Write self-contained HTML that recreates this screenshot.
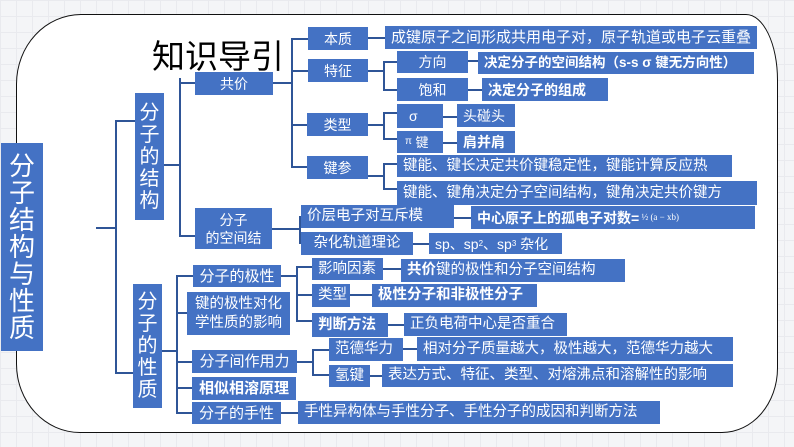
<!DOCTYPE html>
<html><head><meta charset="utf-8"><style>
body{margin:0;width:794px;height:447px;overflow:hidden;background:#f4f5f7;
background-image:linear-gradient(#e9eaee 1px,transparent 1px),linear-gradient(90deg,#e9eaee 1px,transparent 1px);background-size:16px 16px;
font-family:"Liberation Sans","Noto Sans CJK SC",sans-serif;position:relative}
.frame{position:absolute;left:16px;top:14px;width:760px;height:417px;background:#fff;border:1px solid #111;border-radius:65px 32px 56px 64px/70px 66px 65px 69px}
.b{position:absolute;background:#4472c4;color:#fff;font-size:14px;line-height:1;display:flex;align-items:center;white-space:nowrap;overflow:hidden;box-sizing:border-box;padding-left:6px}
.c{justify-content:center;padding-left:0}
.v{flex-direction:column;justify-content:center;padding:0;text-align:center}
.h{position:absolute;height:2px;background:#2f5597}
.l{position:absolute;width:2px;background:#2f5597}
</style></head><body>
<div class="frame"></div>
<div style="position:absolute;left:152px;top:34px;font-size:33px;color:#000;font-family:'Noto Sans CJK SC',sans-serif;line-height:40px">知识导引</div>

<div class="b v" style="left:1px;top:143px;width:42px;height:208px;font-size:26px;line-height:27px">分<br>子<br>结<br>构<br>与<br>性<br>质</div>
<div class="h" style="left:96px;top:227px;width:20px"></div>
<div class="l" style="left:115px;top:120px;height:254px"></div>
<div class="h" style="left:115px;top:120px;width:20px"></div>
<div class="h" style="left:115px;top:372px;width:20px"></div>

<div class="b v" style="left:135px;top:93px;width:29px;height:127px;font-size:20px;line-height:22px">分<br>子<br>的<br>结<br>构</div>
<div class="b v" style="left:133px;top:284px;width:29px;height:124px;font-size:20px;line-height:22px">分<br>子<br>的<br>性<br>质</div>

<!-- structure -->
<div class="h" style="left:164px;top:164px;width:16px"></div>
<div class="l" style="left:179px;top:78px;height:158px"></div>
<div class="h" style="left:179px;top:82px;width:16px"></div>
<div class="h" style="left:179px;top:235px;width:16px"></div>
<div class="b c" style="left:195px;top:72px;width:78px;height:23px">共价</div>
<div class="b c v" style="left:195px;top:208px;width:77px;height:41px;line-height:18px">分子<br>的空间结</div>

<div class="h" style="left:273px;top:82px;width:20px"></div>
<div class="l" style="left:291px;top:38px;height:130px"></div>
<div class="h" style="left:291px;top:38px;width:17px"></div>
<div class="h" style="left:291px;top:70px;width:17px"></div>
<div class="h" style="left:291px;top:124px;width:17px"></div>
<div class="h" style="left:291px;top:166px;width:17px"></div>
<div class="b c" style="left:308px;top:27px;width:60px;height:23px">本质</div>
<div class="b c" style="left:308px;top:59px;width:60px;height:23px">特征</div>
<div class="b c" style="left:307px;top:113px;width:61px;height:23px">类型</div>
<div class="b c" style="left:307px;top:156px;width:61px;height:23px">键参</div>

<div class="h" style="left:368px;top:37px;width:18px"></div>
<div class="b" style="left:385px;top:26px;width:372px;height:23px;font-size:15px">成键原子之间形成共用电子对，原子轨道或电子云重叠</div>

<div class="h" style="left:368px;top:70px;width:17px"></div>
<div class="l" style="left:383px;top:61px;height:30px"></div>
<div class="h" style="left:383px;top:61px;width:14px"></div>
<div class="h" style="left:383px;top:89px;width:14px"></div>
<div class="b c" style="left:397px;top:51px;width:71px;height:22px">方向</div>
<div class="b c" style="left:397px;top:78px;width:71px;height:23px">饱和</div>
<div class="h" style="left:468px;top:60px;width:10px"></div>
<div class="h" style="left:468px;top:89px;width:14px"></div>
<div class="b" style="left:478px;top:52px;width:276px;height:22px;font-size:13.5px;font-weight:bold">决定分子的空间结构（s-s σ 键无方向性）</div>
<div class="b" style="left:482px;top:78px;width:126px;height:23px;font-weight:bold">决定分子的组成</div>

<div class="h" style="left:368px;top:124px;width:17px"></div>
<div class="l" style="left:383px;top:112px;height:28px"></div>
<div class="h" style="left:383px;top:112px;width:14px"></div>
<div class="h" style="left:383px;top:138px;width:14px"></div>
<div class="b" style="left:397px;top:104px;width:46px;height:24px;padding-left:12px">σ</div>
<div class="b" style="left:397px;top:131px;width:46px;height:22px;padding-left:8px;font-size:13px"><span style="font-size:10px">π</span>&nbsp;键</div>
<div class="h" style="left:443px;top:116px;width:14px"></div>
<div class="h" style="left:443px;top:142px;width:14px"></div>
<div class="b" style="left:457px;top:104px;width:58px;height:23px">头碰头</div>
<div class="b" style="left:457px;top:131px;width:58px;height:22px;font-weight:bold">肩并肩</div>

<div class="h" style="left:368px;top:175px;width:17px"></div>
<div class="l" style="left:383px;top:163px;height:27px"></div>
<div class="h" style="left:383px;top:163px;width:14px"></div>
<div class="h" style="left:383px;top:188px;width:14px"></div>
<div class="b" style="left:397px;top:155px;width:335px;height:22px;font-size:14.5px">键能、键长决定共价键稳定性，键能计算反应热</div>
<div class="b" style="left:397px;top:181px;width:360px;height:24px;font-size:14.5px">键能、键角决定分子空间结构，键角决定共价键方</div>

<div class="h" style="left:272px;top:228px;width:29px"></div>
<div class="l" style="left:299px;top:216px;height:28px"></div>
<div class="h" style="left:299px;top:216px;width:3px"></div>
<div class="h" style="left:299px;top:242px;width:3px"></div>
<div class="b" style="left:301px;top:205px;width:153px;height:23px;font-size:14.5px">价层电子对互斥模</div>
<div class="h" style="left:454px;top:217px;width:17px"></div>
<div class="b" style="left:471px;top:206px;width:284px;height:23px;font-size:14px;font-weight:bold">中心原子上的孤电子对数=<span style="font-family:'Liberation Serif',serif;font-size:9px;font-weight:normal">&nbsp;½ (a − xb)</span></div>
<div class="b c" style="left:301px;top:232px;width:112px;height:23px;font-size:14.5px">杂化轨道理论</div>
<div class="h" style="left:413px;top:243px;width:16px"></div>
<div class="b" style="left:429px;top:233px;width:133px;height:21px">sp、sp<sup style="font-size:8px">2</sup>、sp<sup style="font-size:8px">3</sup>&nbsp;杂化</div>

<!-- properties -->
<div class="h" style="left:162px;top:350px;width:16px"></div>
<div class="l" style="left:176px;top:275px;height:139px"></div>
<div class="h" style="left:176px;top:275px;width:17px"></div>
<div class="h" style="left:176px;top:312px;width:11px"></div>
<div class="h" style="left:176px;top:361px;width:16px"></div>
<div class="h" style="left:176px;top:387px;width:16px"></div>
<div class="h" style="left:176px;top:412px;width:16px"></div>
<div class="b c" style="left:193px;top:265px;width:88px;height:22px;font-size:15px">分子的极性</div>
<div class="b v" style="left:187px;top:292px;width:103px;height:43px;font-size:14.5px;line-height:19px">键的极性对化<br>学性质的影响</div>
<div class="b c" style="left:192px;top:350px;width:105px;height:23px;font-size:15px">分子间作用力</div>
<div class="b c" style="left:192px;top:377px;width:104px;height:23px;font-size:15px;font-weight:bold">相似相溶原理</div>
<div class="b c" style="left:192px;top:402px;width:89px;height:22px;font-size:15px">分子的手性</div>

<div class="h" style="left:281px;top:275px;width:17px"></div>
<div class="l" style="left:296px;top:266px;height:56px"></div>
<div class="h" style="left:296px;top:266px;width:16px"></div>
<div class="h" style="left:296px;top:294px;width:16px"></div>
<div class="h" style="left:296px;top:320px;width:16px"></div>
<div class="b" style="left:312px;top:258px;width:71px;height:22px;font-size:14.5px">影响因素</div>
<div class="b" style="left:312px;top:284px;width:38px;height:23px;font-size:14.5px">类型</div>
<div class="b" style="left:312px;top:313px;width:76px;height:24px;font-size:14.5px;font-weight:bold">判断方法</div>
<div class="h" style="left:383px;top:268px;width:18px"></div>
<div class="h" style="left:350px;top:294px;width:22px"></div>
<div class="h" style="left:388px;top:324px;width:16px"></div>
<div class="b" style="left:401px;top:259px;width:224px;height:23px;font-size:14.5px"><b>共价</b>键的极性和分子空间结构</div>
<div class="b" style="left:372px;top:284px;width:165px;height:23px;font-size:14.5px;font-weight:bold">极性分子和非极性分子</div>
<div class="b" style="left:404px;top:313px;width:163px;height:23px;font-size:14.5px">正负电荷中心是否重合</div>

<div class="h" style="left:297px;top:361px;width:16px"></div>
<div class="l" style="left:312px;top:349px;height:27px"></div>
<div class="h" style="left:312px;top:349px;width:17px"></div>
<div class="h" style="left:312px;top:374px;width:17px"></div>
<div class="b" style="left:329px;top:338px;width:74px;height:23px;font-size:14.5px">范德华力</div>
<div class="b" style="left:329px;top:365px;width:41px;height:22px;font-size:14.5px">氢键</div>
<div class="h" style="left:403px;top:348px;width:14px"></div>
<div class="h" style="left:370px;top:375px;width:12px"></div>
<div class="b" style="left:417px;top:337px;width:316px;height:24px;font-size:14.5px">相对分子质量越大，极性越大，范德华力越大</div>
<div class="b" style="left:382px;top:364px;width:351px;height:23px;font-size:14.5px">表达方式、特征、类型、对熔沸点和溶解性的影响</div>

<div class="h" style="left:281px;top:412px;width:17px"></div>
<div class="b" style="left:298px;top:401px;width:362px;height:23px;font-size:14.5px">手性异构体与手性分子、手性分子的成因和判断方法</div>
</body></html>
